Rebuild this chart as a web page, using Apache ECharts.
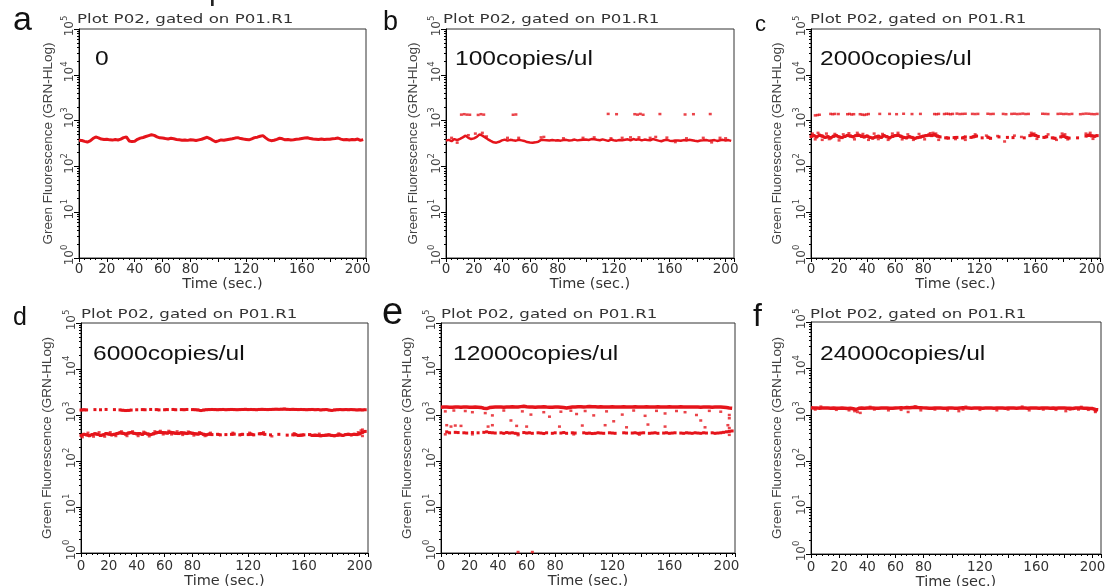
<!DOCTYPE html>
<html><head><meta charset="utf-8">
<script src="https://cdn.jsdelivr.net/npm/echarts@6/dist/echarts.min.js"></script>
<style>html,body{margin:0;padding:0;background:#fff}#c{width:1115px;height:586px}</style>
</head><body><div id="c"></div>
<script>
// ---- data ----
const time = [0,2,4,6,8,10,12,14,16,18,20,22,24,26,28,30,32,34,36,38,40,42,44,46,48,50,52,54,56,58,60,62,64,66,68,70,72,74,76,78,80,82,84,86,88,90,92,94,96,98,100,102,104,106,108,110,112,114,116,118,120,122,124,126,128,130,132,134,136,138,140,142,144,146,148,150,152,154,156,158,160,162,164,166,168,170,172,174,176,178,180,182,184,186,188,190,192,194,196,198,200,202,204];
const panelLetters = ['a','b','c','d','e','f'];
const concentrations = ['0','100copies/ul','2000copies/ul','6000copies/ul','12000copies/ul','24000copies/ul'];
const plotTitle = 'Plot P02, gated on P01.R1';
const xName = 'Time (sec.)';
const yName = 'Green Fluorescence (GRN-HLog)';

const bandA = [372,368,352,340,360,405,440,420,395,385, 392,380,375,385,378,395,425,440,360,348, 355,390,415,428,450,470,490,475,440,420, 415,405,398,410,400,388,380,372,378,370, 382,376,368,380,392,412,432,405,372,345, 360,378,372,383,392,400,415,425,405,395, 388,380,400,425,435,455,470,420,380,365, 372,390,412,400,380,385,376,382,390,395, 405,415,422,405,395,392,388,395,385,392, 390,400,405,415,395,380,385,378,388,382, 395,370,385];

const bandBLow = [365,380,355,395,375,400,430,470,420,395, 410,440,500,470,430,390,360,335,330,345, 370,385,365,380,372,365,380,370,360,340, 332,328,335,345,380,375,372,368,375,370, 372,365,375,380,368,372,385,370,375,380, 385,378,395,390,380,372,390,375,360,385, 372,365,378,370,380,390,372,395,380,390, 370,385,378,372,395,380,365,355,372,380, 365,358,370,368,362,375,368,380,372,362, 355,368,372,378,365,370,375,360,372,380, 368,375,360];
const dotsBHigh = [[11,1350],[13,1380],[15,1350],[17,1340],[23,1330],[25,1380],[27,1350],[48,1340],[50,1360],[116,1400],[122,1380],[135,1380],[137,1350],[139,1400],[141,1340],[153,1390],[171,1360],[177,1380],[189,1390]];
const dotsBLow = [[4,420],[8,330],[16,480],[21,520],[26,540],[29,450],[44,420],[52,420],[68,430],[70,440],[84,410],[98,420],[106,430],[118,410],[126,420],[132,430],[138,430],[146,420],[150,440],[158,425],[164,340],[172,410],[184,420],[190,335],[196,420],[200,410]];

const bandCLow = [450,470,440,480,460,430,445,420,455,470, 440,425,450,475,460,445,470,480,455,440, 460,430,415,440,455,430,470,445,420,450, 470,480,455,430,420,445,430,410,425,440, 455,470,485,470,490,460,440,null,420,415, null,425,430,null,418,440,null,430,445,460, null,420,null,435,410,null,null,440,null,null, 430,null,425,null,null,null,420,null,470,490, 475,450,null,430,445,null,420,410,null,440, 460,430,415,null,null,420,null,null,460,480, 465,455,470];
const dotsCHigh = [[3,1300],[4.5,1320],[6,1340],[14,1400],[15.5,1380],[17,1400],[19.5,1390],[26,1380],[27.5,1400],[29,1360],[30.5,1380],[35,1380],[36.5,1350],[38,1330],[39.5,1360],[41,1390],[49,1400],[56,1400],[61,1380],[66,1410],[72,1390],[78,1400],[88,1390],[89.5,1380],[91,1400],[95,1390],[96.5,1410],[98,1400],[99.5,1380],[101,1400],[104,1420],[106,1390],[108,1400],[110,1410],[115,1400],[117,1390],[119,1400],[126,1410],[128,1390],[130,1400],[137,1400],[139,1380],[143,1400],[145,1410],[147,1390],[149,1400],[151,1420],[153,1390],[155,1400],[165,1410],[167,1400],[169,1390],[176,1400],[178,1410],[180,1390],[182,1400],[184,1380],[186,1400],[192,1380],[194,1400],[196,1420],[198,1410],[200,1390],[202,1380],[204,1400]];
const dotsCLow = [[1,520],[3,390],[5,540],[8,380],[11,520],[13,395],[17,510],[20,370],[23,500],[27,530],[31,390],[33,540],[37,510],[41,380],[45,520],[48,395],[51,510],[55,380],[58,520],[62,540],[65,390],[69,500],[73,380],[77,510],[81,390],[85,530],[87,540],[89,520],[91,380],[103,395],[110,380],[117,500],[125,470],[133,460],[138,350],[145,470],[150,440],[157,540],[159,520],[161,400],[169,500],[175,380],[179,520],[181,500],[183,390],[196,520],[199,540],[201,400]];

const bandDHigh = [1280,1300,1290,null,null,1310,null,1300,null,1320, null,null,1310,null,1290,1270,1250,1260,1280,null, 1300,null,1310,1300,null,1320,null,1310,1290,null, 1300,1310,null,1320,1300,null,1310,1300,1320,null, 1310,1300,1290,1250,1280,1300,1310,1320,1310,1300, 1310,1320,1300,1310,1320,1310,1300,1310,1320,1330, 1310,1320,1310,1300,1320,1330,1320,1310,1320,1330, 1340,1330,1340,1350,1330,1320,1330,1320,1310,1320, 1310,1300,1310,1320,1300,1310,1290,1300,1310,1280, 1260,1290,1300,1310,1300,1310,1300,1310,1300,1290, 1300,1290,1300];
const bandDLow = [360,380,370,355,375,390,380,360,370,395, 385,370,380,395,410,400,385,405,415,400, 390,395,380,405,385,375,390,410,420,415, 410,405,420,410,400,395,410,405,395,410, 400,390,385,400,380,370,385,375,null,380, 370,null,375,null,380,385,null,370,380,null, 375,385,370,null,390,395,380,null,370,null, null,380,null,null,365,null,370,375,360,365, 370,null,375,360,365,360,355,360,365,370, 360,355,365,370,360,375,380,370,380,375, 390,420,440];
const dotsD = [[1,330],[5,410],[9,340],[13,420],[17,340],[21,420],[25,350],[29,440],[33,350],[37,440],[41,350],[45,430],[49,345],[53,440],[57,450],[59,380],[63,450],[65,380],[69,440],[73,370],[77,435],[81,360],[85,420],[89,350],[93,410],[109,410],[121,410],[131,420],[137,345],[153,400],[171,390],[185,395],[199,420],[201,460],[202,480],[202,350]];

const bandEHigh = [1480,1500,1490,1470,1480,1500,1490,1480,1500,1490, 1470,1480,1490,1480,1460,1400,1380,1450,1480,1490, 1500,1490,1480,1500,1490,1510,1500,1490,1520,1550, 1510,1490,1500,1480,1490,1500,1510,1490,1480,1470, 1490,1500,1480,1450,1420,1460,1490,1500,1510,1520, 1500,1510,1530,1520,1510,1500,1510,1500,1490,1500, 1510,1500,1490,1500,1510,1500,1490,1500,1510,1500, 1490,1500,1510,1500,1490,1500,1510,1500,1490,1500, 1510,1500,1490,1500,1510,1500,1490,1500,1490,1500, 1490,1480,1490,1500,1490,1480,1490,1500,1490,1470, 1450,1420,1400];
const bandELow = [null,null,430,410,null,420,415,null,410,405, null,415,null,410,null,420,430,415,410,405, null,410,400,415,405,410,400,390,null,415, 405,410,400,null,410,405,395,410,null,400, 410,null,405,415,400,null,410,405,null,null, 410,400,405,395,400,410,405,400,null,410, 405,400,null,null,410,405,null,405,410,400, 405,410,null,400,405,410,400,null,405,410, 400,405,410,null,405,400,410,405,400,410, 405,400,410,405,null,410,400,405,410,420, 430,440,450];
const dotsEMid = [[3,1200],[9,1250],[17,1220],[22,1150],[31,1100],[36,980],[44,1250],[49,760],[57,1200],[63,1020],[72,1150],[76,920],[84,1180],[91,1240],[95,1050],[101,1220],[107,980],[116,1200],[121,730],[127,1020],[135,1250],[143,960],[151,1230],[157,1080],[165,1220],[171,1150],[179,1000],[182,760],[188,1230],[196,1180],[202,1000],[202,850]];
const dotsELow = [[4,600],[7,560],[10,590],[14,580],[33,560],[36,600],[53,580],[60,560],[83,560],[99,590],[115,600],[130,540],[145,620],[157,560],[185,540],[201,600],[202,520],[202,370],[3,380],[22,380],[54,365],[93,380],[139,375],[54,1.05],[64,1.05]];

const bandF = [1420,1400,1410,1390,1400,1410,1400,1390,1400,1380, 1390,1400,1390,1370,1380,1350,1300,1380,1400,1390, 1400,1410,1400,1390,1380,1400,1410,1400,1390,1380, 1400,1410,1420,1410,1430,1420,1440,1460,1430,1420, 1410,1400,1390,1380,1400,1410,1400,1390,1380,1400, 1410,1390,1380,1400,1420,1410,1400,1390,1400,1410, 1400,1390,1400,1410,1400,1390,1400,1410,1400,1390, 1400,1410,1400,1390,1400,1410,1400,1390,1400,1410, 1400,1390,1400,1410,1400,1390,1400,1380,1400,1410, 1400,1390,1380,1370,1400,1410,1400,1390,1380,1370, 1360,1300,1280];
const dotsF = [[3,1300],[18,1280],[27,1250],[31,1200],[33,1150],[35,1100],[45,1300],[55,1250],[64,1280],[69,1150],[78,1250],[88,1300],[97,1250],[105,1200],[108,1300],[120,1280],[132,1250],[140,1300],[155,1250],[165,1300],[174,1280],[181,1200],[184,1300],[190,1300],[197,1280],[202,1200],[202,1150],[7,1500],[42,1480],[74,1520],[110,1490],[150,1500],[192,1480]];

// ---- layout / style ----
const RED = '#e5141b';
const layout = [
  {g:{left:79,top:29,width:287,height:229}, nameGap:24, lm:3, xm:4, xng:13, tx:77, ty:19.7, ax:95, ay:59.7, lx:13, ly:20.2, lf:34},
  {g:{left:446,top:29,width:288,height:229}, nameGap:26, lm:3, xm:4, xng:13, tx:443, ty:19.7, ax:455, ay:59.7, lx:383, ly:22.6, lf:27},
  {g:{left:811,top:29,width:289,height:229}, nameGap:27, lm:3, xm:4, xng:13, tx:810, ty:19.7, ax:820, ay:59.7, lx:755, ly:24.7, lf:22},
  {g:{left:81,top:323,width:287,height:230}, nameGap:27, lm:3, xm:6, xng:18, tx:81, ty:314.7, ax:93, ay:354.7, lx:13, ly:318.3, lf:25},
  {g:{left:441,top:323,width:294,height:230}, nameGap:27, lm:3, xm:6, xng:18, tx:441, ty:314.7, ax:453, ay:354.7, lx:382, ly:313.8, lf:38},
  {g:{left:811,top:322,width:290,height:232}, nameGap:27, lm:3, xm:6, xng:18, tx:810, ty:314.7, ax:820, ay:354.7, lx:753, ly:317, lf:32}
];

const panelLines = [
  [{d:bandA,w:3,s:false}],
  [{d:bandBLow,w:2.5,s:false}],
  [{d:bandCLow,w:3,s:true}],
  [{d:bandDHigh,w:2.5,s:true},{d:bandDLow,w:3,s:true}],
  [{d:bandEHigh,w:3.5,s:false},{d:bandELow,w:2,s:true}],
  [{d:bandF,w:3.5,s:false}]
];
const panelDots = [[], [dotsBHigh,dotsBLow], [dotsCHigh,dotsCLow], [dotsD], [dotsEMid,dotsELow], [dotsF]];

const grids=[], xAxes=[], yAxes=[], series=[], graphics=[];
layout.forEach((L,i)=>{
  grids.push(Object.assign({show:true, borderColor:'#333', borderWidth:1, backgroundColor:'#fff', outerBoundsMode:'none', containLabel:false}, L.g));
  xAxes.push({type:'value', gridIndex:i, min:0, max:206, interval:20,
    axisLine:{show:true, onZero:false, lineStyle:{color:'#000', width:1}},
    axisTick:{show:true, length:4, lineStyle:{color:'#000'}},
    minorTick:{show:true, splitNumber:5, length:2, lineStyle:{color:'#000'}},
    splitLine:{show:false}, minorSplitLine:{show:false},
    axisLabel:{margin:L.xm, fontSize:13.5, fontFamily:'DejaVu Sans', color:'#333', showMaxLabel:false,
      formatter:v=>(v===100||v===140||v===180||v>200)?'':String(v)},
    name:xName, nameLocation:'middle', nameGap:L.xng,
    nameTextStyle:{fontSize:14.5, fontFamily:'DejaVu Sans', color:'#333', verticalAlign:'top'}
  });
  yAxes.push({type:'log', logBase:10, gridIndex:i, min:1, max:100000,
    axisLine:{show:true, lineStyle:{color:'#000', width:1}},
    axisTick:{show:true, length:5, lineStyle:{color:'#000'}},
    minorTick:{show:true, splitNumber:9, length:2, lineStyle:{color:'#000'}},
    splitLine:{show:false}, minorSplitLine:{show:false},
    axisLabel:{rotate:90, margin:L.lm, color:'#444',
      formatter:v=>'{b|10}{s|'+Math.round(Math.log10(v))+'}',
      rich:{b:{fontSize:12, fontFamily:'DejaVu Sans', color:'#444', verticalAlign:'bottom', lineHeight:16, padding:[0,0,0,6]},
            s:{fontSize:8.5, fontFamily:'DejaVu Sans', color:'#444', verticalAlign:'top', lineHeight:16}}},
    name:yName, nameLocation:'middle', nameGap:L.nameGap,
    nameTextStyle:{fontSize:13.5, fontFamily:'Liberation Sans', color:'#444'}
  });
  panelLines[i].forEach(b=>{
    series.push({type:'line', xAxisIndex:i, yAxisIndex:i, silent:true, animation:false,
      data: time.map((t,k)=>[t, b.d[k]==null?'-':b.d[k]]),
      connectNulls:false, showSymbol:b.s, symbol:'rect', symbolSize:3,
      lineStyle:{color:RED, width:b.w}, itemStyle:{color:RED}, z:3});
  });
  panelDots[i].forEach(ds=>{
    series.push({type:'scatter', xAxisIndex:i, yAxisIndex:i, silent:true, animation:false,
      data: ds, symbol:'rect', symbolSize:[3,2.5], itemStyle:{color:RED}, z:4});
  });
  graphics.push({type:'text', x:L.tx, y:L.ty, scaleX:1.33, silent:true, z:10,
    style:{text:plotTitle, fontSize:12.5, fontFamily:'DejaVu Sans', fill:'#333', align:'left', verticalAlign:'middle'}});
  graphics.push({type:'text', x:L.ax, y:L.ay, scaleX:1.17, silent:true, z:10,
    style:{text:concentrations[i], fontSize:21, fontFamily:'Liberation Sans', fill:'#111', align:'left', verticalAlign:'middle'}});
  graphics.push({type:'text', x:L.lx, y:L.ly, silent:true, z:10,
    style:{text:panelLetters[i], fontSize:L.lf, fontFamily:'Liberation Sans', fill:'#111', align:'left', verticalAlign:'middle'}});
});
graphics.push({type:'text', x:209, y:-8, silent:true, z:10,
  style:{text:'p', fontSize:30, fontFamily:'Liberation Sans', fill:'#222', align:'left', verticalAlign:'middle'}});

const chart = echarts.init(document.getElementById('c'), null, {renderer:'canvas'});
chart.setOption({animation:false, backgroundColor:'#fff', grid:grids, xAxis:xAxes, yAxis:yAxes, series:series, graphic:graphics});
</script>
</body></html>
